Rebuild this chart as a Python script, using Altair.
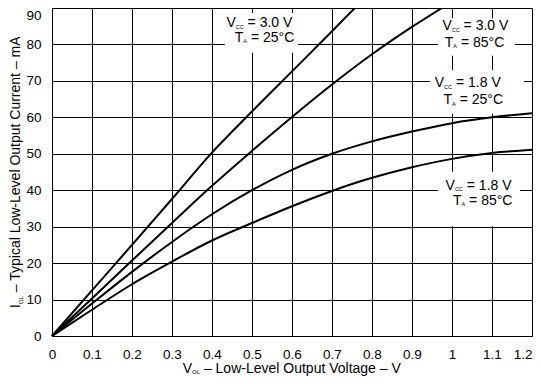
import altair as alt
import pandas as pd

FONT = "Liberation Sans"

# ---- tick values ----
x_ticks = [0, 0.1, 0.2, 0.3, 0.4, 0.5, 0.6, 0.7, 0.8, 0.9, 1.0, 1.1, 1.2]
y_ticks = [0, 10, 20, 30, 40, 50, 60, 70, 80, 90]

# ---- curves (V_OL in V, I_OL in mA) ----
v_30_25 = [0, 0.1, 0.2, 0.3, 0.4, 0.5, 0.6, 0.7, 0.757]
i_30_25 = [0, 12.5, 25.0, 37.6, 50.3, 61.6, 72.6, 83.6, 90]
v_30_85 = [0, 0.1, 0.2, 0.3, 0.4, 0.5, 0.6, 0.7, 0.8, 0.9, 0.975]
i_30_85 = [0, 10.3, 20.7, 31.0, 41.2, 50.8, 60.1, 69.0, 77.3, 84.8, 90]
v_18 = [0, 0.1, 0.2, 0.3, 0.4, 0.5, 0.6, 0.7, 0.8, 0.9, 1.0, 1.1, 1.2]
i_18_25 = [0, 8.9, 17.6, 25.8, 33.4, 40.0, 45.6, 50.0, 53.4, 56.1, 58.4, 60.0, 61.1]
i_18_85 = [0, 7.2, 14.2, 20.4, 26.2, 31.0, 35.6, 39.8, 43.4, 46.3, 48.6, 50.2, 51.1]

# ---- annotations ----
label_vcc = ["= 3.0 V", "= 3.0 V", "= 1.8 V", "= 1.8 V"]
label_ta = ["= 25°C", "= 85°C", "= 25°C", "= 85°C"]
vcc_x = [0.436, 0.976, 0.957, 0.984]
vcc_y = [84.75, 83.9, 68.2, 40.1]
ta_x = [0.457, 0.982, 0.979, 1.0025]
ta_y = [80.8, 79.3, 63.6, 36.0]
box_x1 = [0.432, 0.965, 0.945, 0.965]
box_x2 = [0.615, 1.157, 1.18, 1.17]
box_y1 = [77.7, 76.9, 61.0, 30.1]
box_y2 = [88.6, 87.2, 73.0, 45.1]

rows = []
for name, vs, cs in [("3.0V 25C", v_30_25, i_30_25), ("3.0V 85C", v_30_85, i_30_85),
                     ("1.8V 25C", v_18, i_18_25), ("1.8V 85C", v_18, i_18_85)]:
    for k, (a, b) in enumerate(zip(vs, cs)):
        rows.append({"s": name, "v": a, "i": b, "o": k})
curves = pd.DataFrame(rows)

boxes = pd.DataFrame({"v": box_x1, "v2": box_x2, "i": box_y1, "i2": box_y2})
vline = pd.DataFrame({"v": vcc_x, "i": vcc_y, "main": ["V"] * 4, "sub": ["CC"] * 4, "rest": label_vcc})
tline = pd.DataFrame({"v": ta_x, "i": ta_y, "main": ["T"] * 4, "sub": ["A"] * 4, "rest": label_ta})

X_AX = alt.Axis(values=x_ticks, format="~g", title=None, labelPadding=11, labelFlush=False,
                labelAlign={"condition": {"test": "datum.value == 1.2", "value": "right"}, "value": "center"})
Y_AX = alt.Axis(values=y_ticks, title=None, labelPadding=11,
                labelBaseline={"condition": {"test": "datum.value == 90", "value": "top"}, "value": "middle"})
XS = alt.Scale(domain=[0, 1.2], nice=False)
YS = alt.Scale(domain=[0, 90], nice=False)


def X(f="v"):
    return alt.X(f + ":Q", scale=XS, axis=X_AX)


def Y(f="i"):
    return alt.Y(f + ":Q", scale=YS, axis=Y_AX)


rect = alt.Chart(boxes).mark_rect(fill="white", strokeWidth=0).encode(
    x=X(), x2="v2:Q", y=Y(), y2="i2:Q")

lines = alt.Chart(curves).mark_line(color="black", strokeWidth=2, interpolate="monotone").encode(
    x=X(), y=Y(), detail="s:N", order="o:Q")


def txt(df, field, size, dx=0, dy=0):
    return alt.Chart(df).mark_text(align="left", baseline="alphabetic", font=FONT, fontSize=size,
                                   color="black", dx=dx, dy=dy).encode(x=X(), y=Y(), text=field + ":N")


texts = [
    txt(vline, "main", 14),
    txt(vline, "sub", 5.5, dx=9.3, dy=1.5),
    txt(vline, "rest", 14, dx=21.2),
    txt(tline, "main", 14),
    txt(tline, "sub", 5.5, dx=8.5, dy=1.5),
    txt(tline, "rest", 14, dx=16.1),
]


# ---- axis titles with subscripts ----
def ptxt(s, x, y, size, angle=0):
    kw = dict(align="left", baseline="alphabetic", font=FONT, fontSize=size, color="black")
    if angle:
        kw["angle"] = angle
    return alt.Chart(pd.DataFrame({"t": [s]})).mark_text(**kw).encode(
        x=alt.value(x), y=alt.value(y), text="t:N")


xt = [
    ptxt("V", 130.7, 365, 14),
    ptxt("OL", 140.0, 366, 6),
    ptxt("– Low-Level Output Voltage – V", 151.9, 365, 14),
]
yt = [
    ptxt("I", -32, 300, 14, 270),
    ptxt("OL", -29, 296.1, 6, 270),
    ptxt("– Typical Low-Level Output Current – mA", -32, 284.2, 14, 270),
]

chart = alt.layer(rect, lines, *texts, *xt, *yt).properties(
    width=480, height=328,
    autosize=alt.AutoSizeParams(type="none"),
    padding={"left": 44, "top": 0, "right": 1, "bottom": 40},
).configure_view(stroke="transparent").configure_axis(
    domainColor="black", domainWidth=1, gridColor="black", gridWidth=1, grid=True,
    ticks=False, labelFont=FONT, labelFontSize=13.5, labelColor="black",
)

chart.save("out.html", embed_options={"renderer": "svg", "actions": False})
